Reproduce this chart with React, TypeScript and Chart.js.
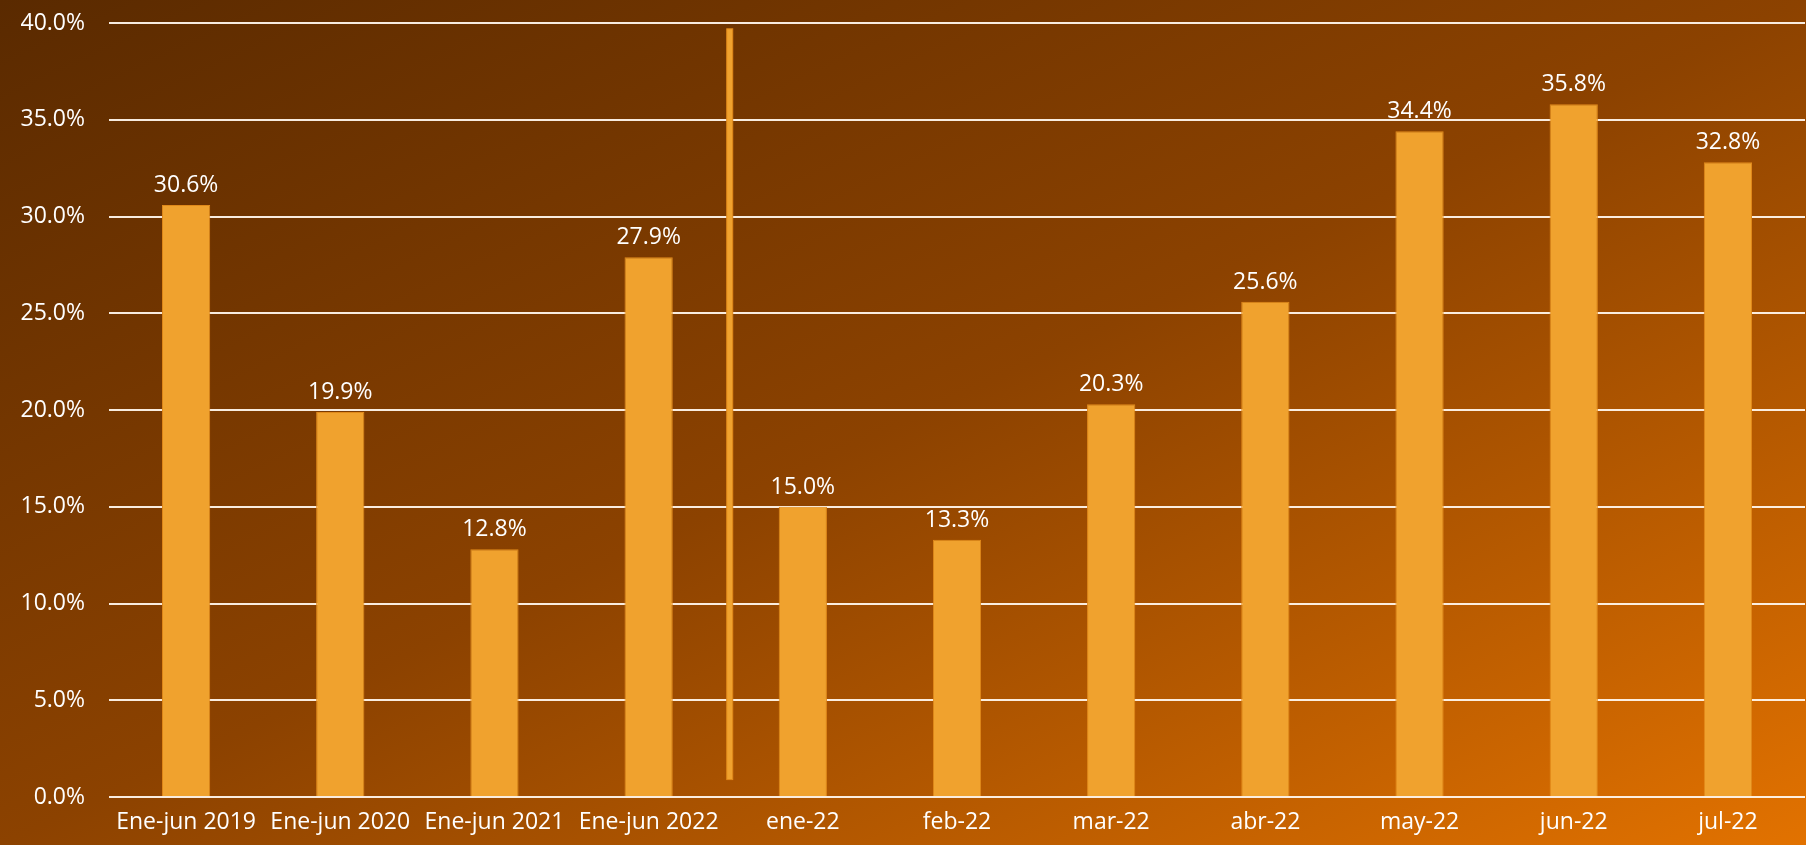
import React, { useEffect, useRef } from "react";
import { Chart, registerables } from "chart.js";

Chart.register(...registerables);

const categories = [
  "Ene-jun 2019",
  "Ene-jun 2020",
  "Ene-jun 2021",
  "Ene-jun 2022",
  "ene-22",
  "feb-22",
  "mar-22",
  "abr-22",
  "may-22",
  "jun-22",
  "jul-22",
];
const values = [30.6, 19.9, 12.8, 27.9, 15.0, 13.3, 20.3, 25.6, 34.4, 35.8, 32.8];
const yTicksMin = 0;
const yTicksMax = 40;
const yTickStep = 5;
// divider between the semester group and the monthly group (in value units)
const dividerAfterIndex = 3;
const dividerFrom = 0.9;
const dividerTo = 39.7;

const FONT = "'Open Sans', 'Noto Sans', sans-serif";
const BAR = "#F0A22E";
const BAR_BORDER = "#E0891A";

const labelsPlugin = {
  id: "valueLabels",
  afterDatasetsDraw(chart: any) {
    const { ctx } = chart;
    const meta = chart.getDatasetMeta(0);
    ctx.save();
    ctx.fillStyle = "#FFFFFF";
    ctx.font = `23px ${FONT}`;
    ctx.textAlign = "center";
    ctx.textBaseline = "bottom";
    meta.data.forEach((bar: any, i: number) => {
      ctx.fillText(values[i].toFixed(1) + "%", bar.x, bar.y - 8);
    });
    ctx.restore();
  },
};

const dividerPlugin = {
  id: "divider",
  afterDatasetsDraw(chart: any) {
    const { ctx, scales } = chart;
    const x =
      (scales.x.getPixelForValue(dividerAfterIndex) +
        scales.x.getPixelForValue(dividerAfterIndex + 1)) /
        2 +
      4;
    const yTop = scales.y.getPixelForValue(dividerTo);
    const yBot = scales.y.getPixelForValue(dividerFrom);
    ctx.save();
    ctx.fillStyle = BAR;
    ctx.fillRect(x - 3, yTop, 6, yBot - yTop);
    ctx.strokeStyle = BAR_BORDER;
    ctx.lineWidth = 1;
    ctx.strokeRect(x - 3, yTop, 6, yBot - yTop);
    ctx.restore();
  },
};

export default function App() {
  const ref = useRef<HTMLCanvasElement | null>(null);

  useEffect(() => {
    document.body.style.margin = "0";
    if (!ref.current) return;
    const chart = new Chart(ref.current, {
      type: "bar",
      data: {
        labels: categories,
        datasets: [
          {
            data: values,
            backgroundColor: BAR,
            borderColor: BAR_BORDER,
            borderWidth: 1,
            barPercentage: 0.5,
            categoryPercentage: 0.626,
          },
        ],
      },
      plugins: [labelsPlugin, dividerPlugin],
      options: {
        animation: false,
        responsive: false,
        maintainAspectRatio: false,
        layout: { padding: { top: 23, right: 1, left: 0, bottom: 0 } },
        plugins: {
          legend: { display: false },
          tooltip: { enabled: false },
        },
        scales: {
          x: {
            grid: { display: false, drawTicks: false },
            border: { display: false },
            ticks: {
              color: "#FFFFFF",
              font: { family: FONT, size: 23 },
              padding: 12,
              maxRotation: 0,
              autoSkip: false,
            },
            afterFit(scale: any) {
              scale.height = 48;
              scale.paddingLeft = 0;
              scale.paddingRight = 0;
            },
          },
          y: {
            min: yTicksMin,
            max: yTicksMax,
            grid: {
              color: "rgba(255,245,235,0.95)",
              lineWidth: 2,
              drawTicks: false,
            },
            border: { display: false },
            ticks: {
              stepSize: yTickStep,
              color: "#FFFFFF",
              font: { family: FONT, size: 23 },
              padding: 24,
              callback: (v: any) => Number(v).toFixed(1) + "%",
            },
            afterFit(scale: any) {
              scale.width = 109;
              scale.paddingTop = 0;
              scale.paddingBottom = 0;
            },
          },
        },
      },
    });
    return () => chart.destroy();
  }, []);

  return (
    <div
      style={{
        width: 1806,
        height: 845,
        background:
          "linear-gradient(to bottom right, #5a2a00 0%, #8c4200 50%, #e27200 100%)",
      }}
    >
      <canvas ref={ref} width={1806} height={845} style={{ display: "block" }} />
    </div>
  );
}
